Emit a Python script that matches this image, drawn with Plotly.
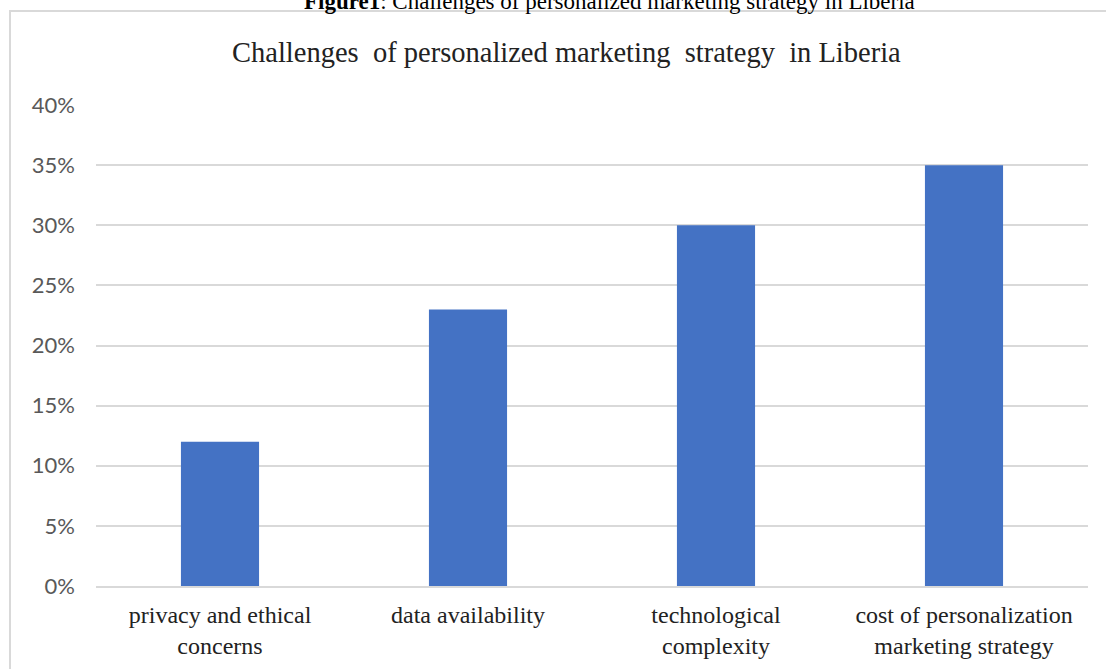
import plotly.graph_objects as go

categories = ["privacy and ethical<br>concerns", "data availability",
              "technological<br>complexity", "cost of personalization<br>marketing strategy"]
values = [0.12, 0.23, 0.30, 0.35]
tick_vals = [0, 0.05, 0.10, 0.15, 0.20, 0.25, 0.30, 0.35, 0.40]
tick_text = ["0%", "5%", "10%", "15%", "20%", "25%", "30%", "35%", "40%"]

W, H = 1106, 669
L, R, T, B = 96, 18, 105, 83
pw, ph = W - L - R, H - T - B

def px_x(x):
    return (x - L) / pw

def px_y(y):
    return (H - B - y) / ph

fig = go.Figure(go.Bar(x=categories, y=values, marker_color="#4472C4",
                       marker_line_width=0))

fig.update_layout(
    width=W, height=H,
    margin=dict(l=L, r=R, t=T, b=B, autoexpand=False),
    paper_bgcolor="white", plot_bgcolor="white",
    bargap=0.685,
    showlegend=False,
    xaxis=dict(showgrid=False, showline=True, linecolor="#d9d9d9", linewidth=2,
               ticks="", ticklabelstandoff=6,
               tickfont=dict(family="Liberation Serif", size=24, color="#222")),
    yaxis=dict(range=[0, 0.40], tickvals=tick_vals, ticktext=tick_text,
               showgrid=True, gridcolor="#d9d9d9", gridwidth=2, zeroline=False,
               ticks="", ticklabelstandoff=20,
               tickfont=dict(family="Lato", size=22, color="#595959")),
    shapes=[dict(type="rect", xref="paper", yref="paper",
                 x0=px_x(10), x1=px_x(1120), y0=px_y(11), y1=px_y(700),
                 line=dict(color="#d9d9d9", width=2), fillcolor="rgba(0,0,0,0)", layer="below")],
    annotations=[
        dict(text="Challenges  of personalized marketing  strategy  in Liberia",
             xref="paper", yref="paper", x=px_x(566), y=px_y(52),
             xanchor="center", yanchor="middle", showarrow=False,
             font=dict(family="Liberation Serif", size=28.5, color="#222")),
        dict(text="<b>Figure1</b>: Challenges of personalized marketing strategy in Liberia",
             xref="paper", yref="paper", x=px_x(609), y=px_y(1),
             xanchor="center", yanchor="middle", showarrow=False,
             font=dict(family="Liberation Serif", size=23, color="black")),
    ],
)

fig.write_html("out.html")
